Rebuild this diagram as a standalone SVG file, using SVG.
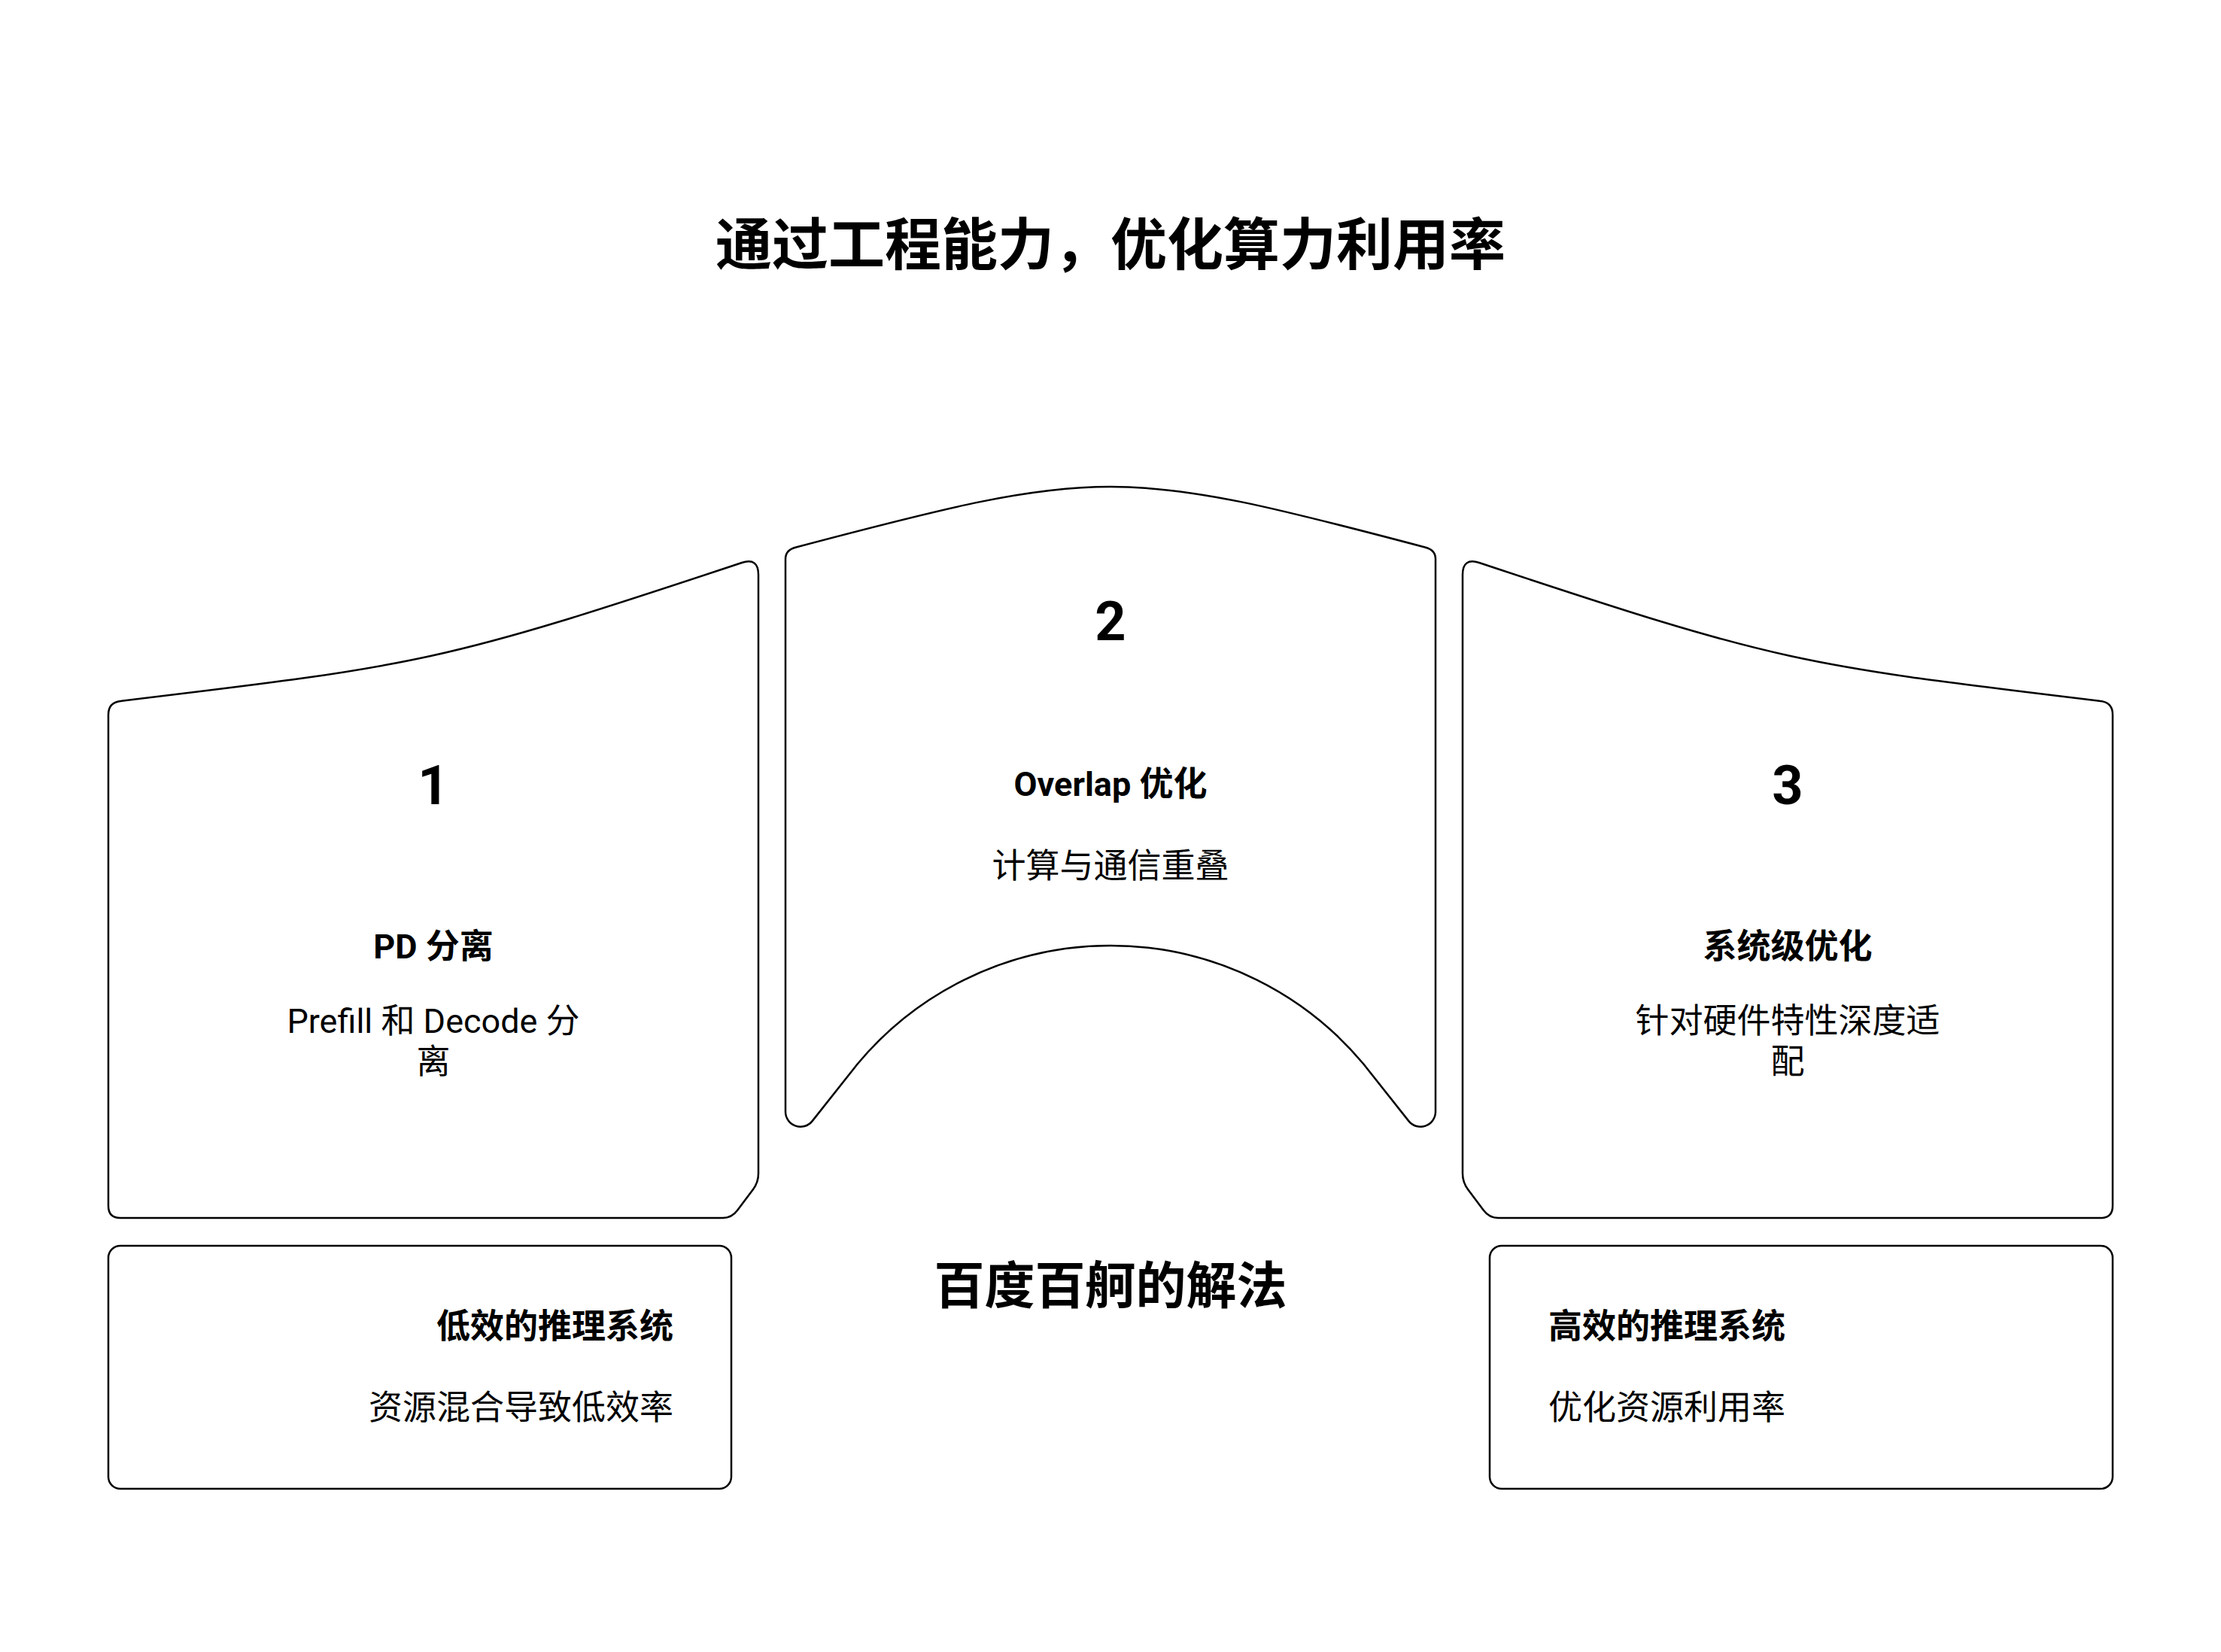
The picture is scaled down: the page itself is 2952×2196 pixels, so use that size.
<svg xmlns="http://www.w3.org/2000/svg" width="2952" height="2196" viewBox="0 0 2952 2196">
<style>
.shape{fill:#ffffff;stroke:#000000;stroke-width:2.5;stroke-linejoin:round}
.t{font-family:Roboto,"Noto Sans CJK SC",sans-serif;fill:#000000}
.h1{font-size:75px;font-weight:700;text-anchor:middle}
.h2{font-size:67px;font-weight:700;text-anchor:middle}
.num{font-size:72px;font-weight:700;text-anchor:middle}
.ttl{font-size:45px;font-weight:700}
.body{font-size:45px;font-weight:400}
.mid{text-anchor:middle}
.end{text-anchor:end}
.start{text-anchor:start}
</style>
<rect x="0" y="0" width="2952" height="2196" fill="#ffffff"/>
<g id="connectors"></g>
<g id="title">
<text class="t h1" x="1476" y="352">通过工程能力，优化算力利用率</text>
</g>
<g id="card1">
<path class="shape" d="M 144 950 Q 144 934 160 932 C 560 884 586 881 986 748 Q 1008 741 1008 764 L 1008 1560 Q 1008 1571.5 1001 1581 L 980 1609 Q 972.6 1619 960.6 1619 L 160 1619 Q 144 1619 144 1603 Z"/>
<text class="t num" x="576" y="1069">1</text>
<text class="t ttl mid" x="576" y="1274">PD 分离</text>
<text class="t body mid" x="576" y="1373">Prefill 和 Decode 分</text>
<text class="t body mid" x="576" y="1427">离</text>
</g>
<g id="card2">
<path class="shape" d="M 1044 743 Q 1044 731 1058 727.5 C 1463 620.2 1489 620.2 1894 727.5 Q 1908 731 1908 743 L 1908 1478 A 20 20 0 0 1 1872.5 1490.4 L 1812 1414 A 438 438 0 0 0 1140 1414 L 1079.5 1490.4 A 20 20 0 0 1 1044 1478 Z"/>
<text class="t num" x="1476" y="851">2</text>
<text class="t ttl mid" x="1476" y="1058">Overlap 优化</text>
<text class="t body mid" x="1476" y="1167">计算与通信重叠</text>
</g>
<g id="card3">
<path class="shape" transform="matrix(-1 0 0 1 2952 0)" d="M 144 950 Q 144 934 160 932 C 560 884 586 881 986 748 Q 1008 741 1008 764 L 1008 1560 Q 1008 1571.5 1001 1581 L 980 1609 Q 972.6 1619 960.6 1619 L 160 1619 Q 144 1619 144 1603 Z"/>
<text class="t num" x="2376" y="1069">3</text>
<text class="t ttl mid" x="2376" y="1274">系统级优化</text>
<text class="t body mid" x="2376" y="1373">针对硬件特性深度适</text>
<text class="t body mid" x="2376" y="1427">配</text>
</g>
<g id="center-label">
<text class="t h2" x="1476" y="1733">百度百舸的解法</text>
</g>
<g id="box-left">
<rect class="shape" x="144" y="1656" width="828" height="323" rx="16" ry="16"/>
<text class="t ttl end" x="895" y="1779">低效的推理系统</text>
<text class="t body end" x="895" y="1887">资源混合导致低效率</text>
</g>
<g id="box-right">
<rect class="shape" x="1980" y="1656" width="828" height="323" rx="16" ry="16"/>
<text class="t ttl start" x="2058" y="1779">高效的推理系统</text>
<text class="t body start" x="2058" y="1887">优化资源利用率</text>
</g>
</svg>
